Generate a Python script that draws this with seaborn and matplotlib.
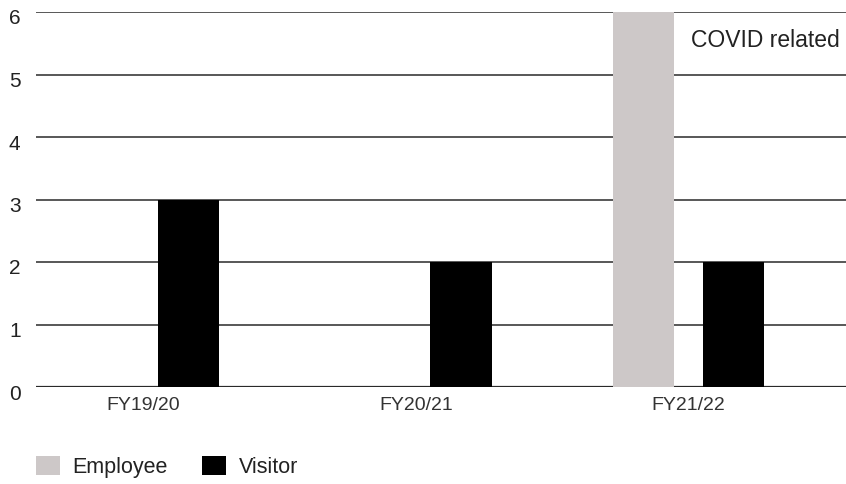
import matplotlib
matplotlib.use("Agg")
import matplotlib.pyplot as plt
import matplotlib.transforms as mtransforms
import seaborn as sns
import pandas as pd
from matplotlib.patches import Patch

years = ["FY19/20", "FY20/21", "FY21/22"]
employee = [0, 0, 6]
visitor = [3, 2, 2]
series_names = ["Employee", "Visitor"]
colors = ["#CDC8C8", "#000000"]
yticks = [0, 1, 2, 3, 4, 5, 6]
note = "COVID related"

df = pd.DataFrame({
    "year": years * 2,
    "value": employee + visitor,
    "type": [series_names[0]] * len(years) + [series_names[1]] * len(years),
})

sns.set_theme(style="white")
plt.rcParams['font.family'] = ['Liberation Sans', 'DejaVu Sans']

fig = plt.figure(figsize=(8.46, 4.84), dpi=100)
ax = fig.add_axes([36/846, 1-387/484, 1-36/846, 375/484])

sns.barplot(data=df, x="year", y="value", hue="type", palette=colors,
            width=0.663, gap=0.32, ax=ax, legend=False, saturation=1,
            edgecolor="none", linewidth=0, zorder=3)

ax.set_ylim(0, 6)
ax.set_xlim(-0.394, 2.578)
ax.set_yticks(yticks)
for y in yticks:
    ax.axhline(y, color="#2a2a2a", lw=1.1 if y else 1.6, zorder=1)
for s in ax.spines.values():
    s.set_visible(False)
ax.set_xlabel("")
ax.set_ylabel("")
ax.tick_params(axis="y", labelsize=15, labelcolor="#222222", length=0, pad=19.5)
ax.tick_params(axis="x", labelsize=14, labelcolor="#333333", length=0, pad=7)
shift = mtransforms.ScaledTranslation(0, -5/100, fig.dpi_scale_trans)
for lab in ax.get_yticklabels():
    lab.set_horizontalalignment("left")
    lab.set_transform(lab.get_transform() + shift)

ax.text(2.555, 5.55, note, ha="right", va="center", fontsize=16.5, color="#222222")

handles = [Patch(facecolor=c, edgecolor="none") for c in colors]
fig.legend(handles, series_names, loc="lower left", bbox_to_anchor=(36/846, 6/484),
           ncol=2, frameon=False, fontsize=15.5, handlelength=1.1, handleheight=1.0,
           columnspacing=1.6, handletextpad=0.6, labelcolor="#222222",
           borderpad=0, borderaxespad=0)

fig.savefig("out.png", dpi=100)
